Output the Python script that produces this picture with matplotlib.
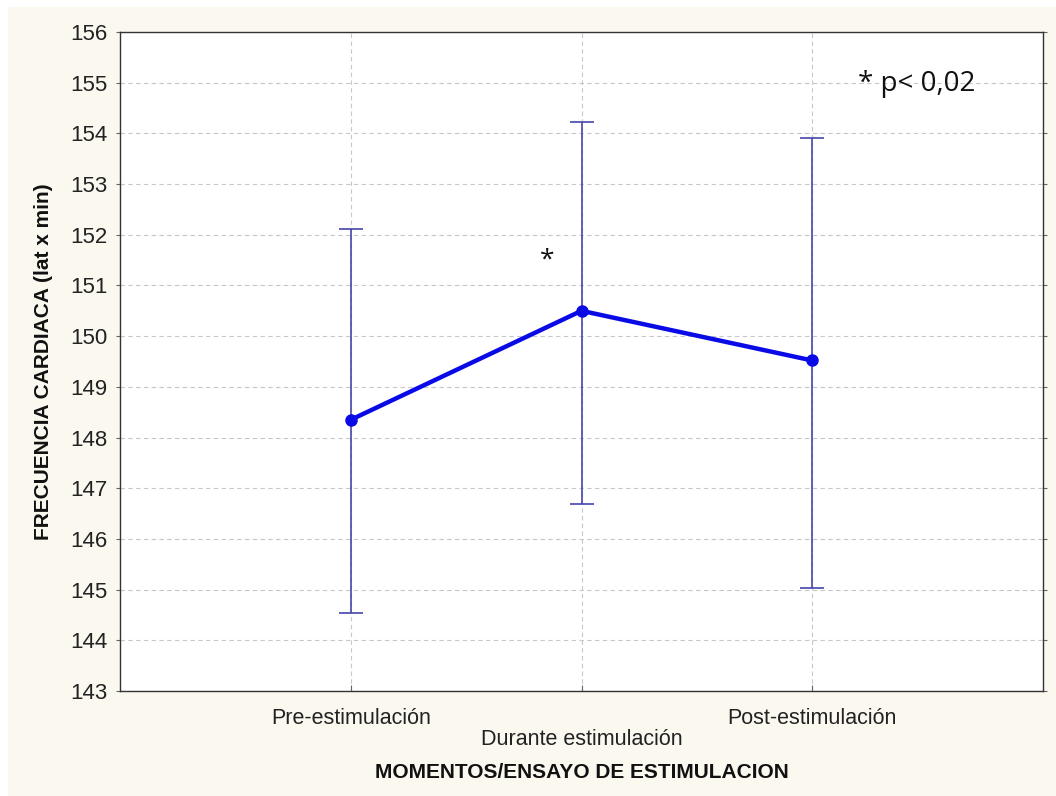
import matplotlib
matplotlib.use("Agg")
import matplotlib.pyplot as plt
from matplotlib.patches import Rectangle

# Heart rate by stimulation phase: means with interval bounds
moments = ["Pre-estimulación", "Durante estimulación", "Post-estimulación"]
means = [148.35, 150.50, 149.52]
upper = [152.11, 154.22, 153.90]
lower = [144.53, 146.69, 145.03]
y_ticks = list(range(143, 157))

plt.rcParams["font.family"] = ["Liberation Sans", "DejaVu Sans"]

fig = plt.figure(figsize=(10.56, 7.96), dpi=100)
fig.patch.set_facecolor("white")
fig.add_artist(Rectangle((8 / 1056, 0), 1, 1 - 7 / 796, transform=fig.transFigure,
                         facecolor="#fbf8ef", edgecolor="none", zorder=-10))

ax = fig.add_axes([120 / 1056, 1 - 691 / 796, (1043 - 120) / 1056, (691 - 32) / 796])
ax.set_facecolor("white")

x = [1, 2, 3]
err_low = [m - l for m, l in zip(means, lower)]
err_high = [u - m for m, u in zip(means, upper)]

ax.errorbar(x, means, yerr=[err_low, err_high], fmt="none", ecolor="#4646aa",
            elinewidth=1.2, capsize=8.5, capthick=1.2, zorder=2)
ax.plot(x, means, color="#0a0ae6", lw=3.2, marker="o", markersize=8,
        markeredgecolor="#0a0ae6", zorder=3)

ax.set_xlim(0, 4)
ax.set_ylim(143, 156)
ax.set_yticks(y_ticks)
ax.set_yticklabels([str(t) for t in y_ticks], fontsize=16, color="#222222")
ax.set_xticks(x)
ax.set_xticklabels(["", "", ""])
for xi, name in zip(x, moments):
    dy = -0.041 if xi != 2 else -0.074
    ax.text(xi, dy, name, transform=ax.get_xaxis_transform(), ha="center",
            va="center", fontsize=15.5, color="#222222")

ax.grid(True, color="#c8c8c8", linestyle=(0, (4, 3)), linewidth=0.8)
ax.set_axisbelow(True)
ax.tick_params(axis="y", direction="out", length=3, color="#666666", right=True, pad=6)
ax.tick_params(axis="x", direction="in", length=4, color="#666666")
for s in ax.spines.values():
    s.set_color("#333333")
    s.set_linewidth(1.0)

ax.set_ylabel("FRECUENCIA CARDIACA (lat x min)", fontsize=15, fontweight="bold",
              color="#111111", labelpad=12)
fig.text((373 + 790) / 2 / 1056, 1 - 773 / 796, "MOMENTOS/ENSAYO DE ESTIMULACION",
         ha="center", va="center", fontsize=15, fontweight="bold", color="#111111")

ax.text(2 - 0.15, 151.5, "*", fontsize=19, ha="center", va="center", color="#111111",
        family=["Open Sans", "DejaVu Sans"])
ax.text(3.2, 154.98, "* p< 0,02", fontsize=20, ha="left", va="center", color="#111111",
        family=["Open Sans", "DejaVu Sans"])

fig.savefig("out.png", dpi=100)
